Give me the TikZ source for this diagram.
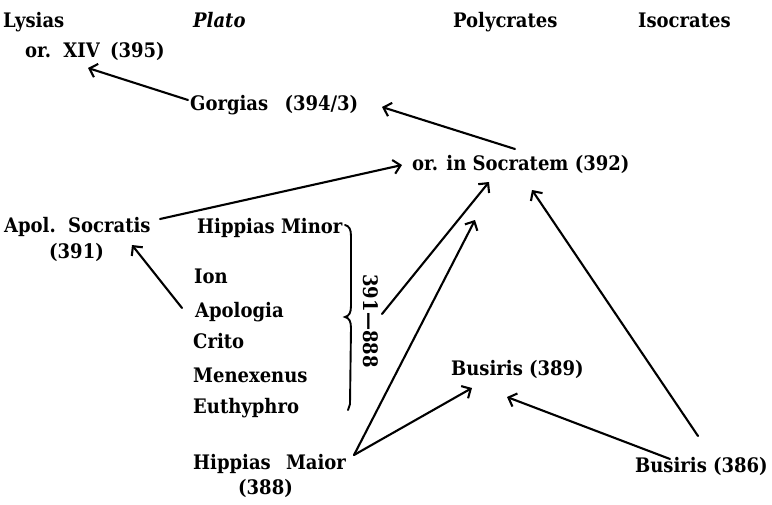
\documentclass[tikz,border=0pt]{standalone}
\usepackage{fontspec}
\setmainfont{DejaVu Serif Condensed}
\usetikzlibrary{arrows.meta,calc}
\tikzset{
  lbl/.style={anchor=base west, inner sep=0pt, font=\fontsize{20}{24}\selectfont\bfseries},
  arr/.style={line width=2.1pt, line cap=round, -{Straight Barb[length=7pt,width=14pt,line width=2.1pt]}},
  bracestyle/.style={line width=1.9pt, line cap=round}
}
\begin{document}
\begin{tikzpicture}[x=1pt,y=-1pt]
\fill[white] (0,0) rectangle (772,504);
\useasboundingbox (0,0) rectangle (772,504);
% headings
\node[lbl] (lys) at (3,27) {Lysias};
\node[lbl, font=\fontsize{20}{24}\selectfont\bfseries\itshape] (plato) at (193,27) {Plato};
\node[lbl] (poly) at (453,27) {Polycrates};
\node[lbl] (iso) at (638,27) {Isocrates};
% works
\node[lbl] (xiv) at (25,57) {or.\hspace{4pt} XIV\hspace{4pt} (395)};
\node[lbl] (gorg) at (190,110) {Gorgias\hspace{10pt} (394/3)};
\node[lbl] (soc) at (412,170) {or. in Socratem (392)};
\node[lbl] (apol) at (4,232) {Apol.\hspace{4pt} Socratis};
\node[lbl] (apoln) at (49,258) {(391)};
\node[lbl] (hmin) at (197,233) {Hippias Minor};
\node[lbl] (ion) at (194,283) {Ion};
\node[lbl] (apologia) at (195,317) {Apologia};
\node[lbl] (crito) at (193,348) {Crito};
\node[lbl] (menex) at (193,382) {Menexenus};
\node[lbl] (euth) at (193,413) {Euthyphro};
\node[lbl] (bus389) at (451,375) {Busiris (389)};
\node[lbl] (hmaj) at (193,469) {Hippias\hspace{9pt} Maior};
\node[lbl] (hmajn) at (238,494) {(388)};
\node[lbl] (bus386) at (635,472) {Busiris (386)};
\node[inner sep=0pt, rotate=-90, font=\fontsize{20}{24}\selectfont\bfseries] (dates) at (371,321) {391---888};
% brace
\draw[bracestyle] (345,225) .. controls (349,226) and (351,229) .. (351,236)
  -- (351,306) .. controls (351,313) and (349,316) .. (345,317)
  .. controls (349,318) and (351,321) .. (351,328) -- (350,404) -- (348,410);
% arrows
\draw[arr] ($(gorg.base west)+(-2,-10)$) -- ($(xiv.base west)+(63,11)$);
\draw[arr] ($(soc.base west)+(103,-21)$) -- ($(gorg.base west)+(192,-3)$);
\draw[arr] ($(apol.base west)+(156,-13)$) -- ($(soc.base west)+(-10,-5)$);
\draw[arr] ($(apologia.base west)+(-13,-9)$) -- ($(apol.base west)+(128,13)$);
\draw[arr] ($(dates.center)+(11,-7)$) -- ($(soc.base west)+(77,12)$);
\draw[arr] ($(hmaj.base west)+(161,-14)$) -- ($(soc.base west)+(63,50)$);
\draw[arr] ($(hmaj.base west)+(161,-14)$) -- ($(bus389.base west)+(21,13)$);
\draw[arr] ($(bus386.base west)+(35,-13)$) -- ($(bus389.base west)+(56,22)$);
\draw[arr] ($(bus386.base west)+(63,-36)$) -- ($(soc.base west)+(120,20)$);
\end{tikzpicture}
\end{document}
